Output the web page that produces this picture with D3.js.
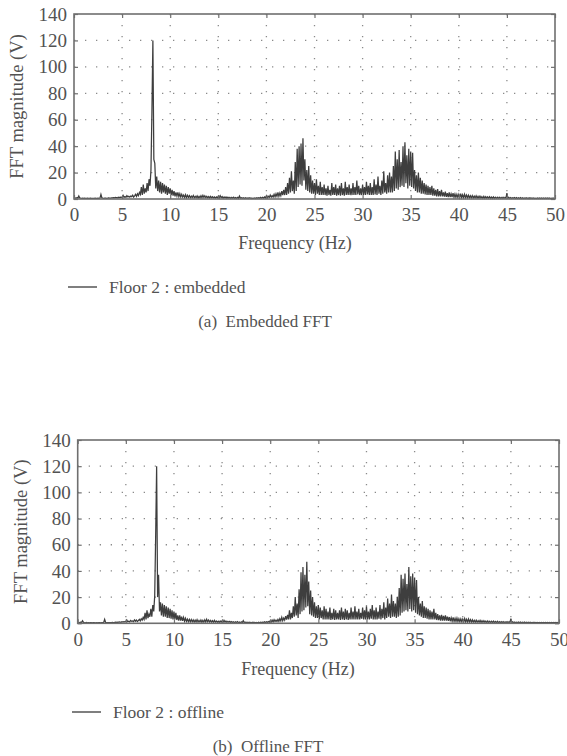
<!DOCTYPE html>
<html>
<head>
<meta charset="utf-8">
<script src="https://cdn.jsdelivr.net/npm/d3@7"></script>
<style>
  html, body { margin: 0; padding: 0; background: #fff; }
  svg { display: block; }
  text { font-family: "Liberation Serif", "DejaVu Serif", serif; fill: #525252; }
</style>
</head>
<body>
<svg id="chart" width="567" height="756"></svg>
<script>
// FFT magnitude (V), one value per 0.1 Hz from 0 to 50 Hz
const freqStep = 0.1;

const embeddedFft = [
  0.5,0.8,0.6,1,0.7,2.3,0.8,0.6,0.5,0.7,
  0.5,0.6,0.4,0.5,0.6,0.4,0.5,0.6,0.5,0.4,
  0.5,0.4,0.6,0.5,0.4,0.6,0.5,0.7,3.5,0.8,
  0.6,0.5,0.7,0.6,0.5,0.6,0.8,0.7,0.6,0.9,
  0.8,1,0.9,1.2,1,0.8,1.3,1.1,1.4,1.2,
  1.5,2.8,1.3,1.8,1.2,2.5,1.6,2,1.4,2.2,
  1.8,2.9,1.5,2.4,3.5,2,4,2.6,5,3.5,
  9,3,11,4,8,5,12,6,15,10,
  22,66,120,30,27,8,17,6,14,5,
  13,4,12,5,11,4,10,3,9,4,
  8,3,7,2.5,6,2,5,2.2,5,1.8,
  4,1.5,3.5,1.4,3,1.2,3.2,1,2.8,1.2,
  2.5,1,2.2,1.1,2.6,0.9,2,1,2.3,0.8,
  2,0.9,2.5,1,2.8,1.2,2.4,1,2,0.9,
  1.8,0.8,2,0.9,1.7,0.8,1.5,0.7,1.6,0.8,
  2.2,0.8,2.5,1,1.8,0.7,1.6,0.8,1.5,0.6,
  1.4,0.6,1.3,0.5,1.2,0.6,1.4,0.5,1.1,0.5,
  1.2,0.5,2.2,0.6,1,0.5,0.9,0.4,1,0.5,
  0.8,0.4,0.9,0.5,0.8,0.4,0.7,0.5,0.8,0.4,
  0.9,0.5,1,0.6,1.2,0.6,1.3,0.7,1.5,0.8,
  2.5,1,2,1.2,3,1.4,2.6,1.5,3.5,1.6,
  4,2,5,2,4.5,2.5,6,3,7,3,
  9,3,12,4,16,5,21,6,14,4,
  28,6,38,9,40,11,42,10,46,14,
  30,7,22,6,25,5,18,4,14,4,
  12,3,15,4,10,3,13,3,9,3,
  11,3,8,2.5,10,3,7,2.5,12,3,
  9,3,11,2.5,8,3,10,2.5,12,3,
  8,2.5,13,3,9,3,11,3,8,3,
  12,3,9,3,14,3.5,10,3,8,3,
  11,3,9,3,13,3.5,10,3,12,3,
  9,3,15,3.5,11,3,17,4,10,3,
  14,4,21,5,12,4,18,5,20,5,
  17,5,25,6,36,8,30,7,37,9,
  28,10,40,9,43,12,33,8,38,10,
  36,9,35,8,22,6,18,5,20,5,
  16,4,14,4,12,3.5,11,3,10,3,
  9,3,10,2.5,8,2.5,7,2,7.5,2,
  6,2,7,2,5,1.8,5.5,1.6,4.5,1.5,
  5,1.5,4,1.4,4.5,1.3,3.8,1.2,3.5,1.2,
  3.5,1.1,4,1,3.2,1,3.6,1,3,0.9,
  2.8,0.9,2.5,0.8,2.6,0.8,2.2,0.8,2.4,0.7,
  2,0.7,2.2,0.7,1.8,0.6,2,0.6,1.7,0.6,
  1.6,0.6,1.8,0.5,1.5,0.5,1.6,0.5,1.4,0.5,
  1.3,0.5,1.4,0.5,1.2,0.5,1.3,0.5,1.2,0.5,
  4.5,0.6,1.2,0.5,1.1,0.4,1,0.5,1.1,0.4,
  1,0.4,0.9,0.4,1,0.4,0.9,0.4,0.8,0.4,
  0.9,0.4,0.8,0.3,0.9,0.4,0.8,0.3,0.8,0.4,
  0.7,0.3,0.8,0.3,0.7,0.3,0.8,0.3,0.7,0.3,
  0.7,0.3,0.8,0.3,0.7,0.3,0.6,0.3,0.7,0.3,
  0.5
];

const offlineFft = [
  0.4,0.6,0.5,0.9,0.6,2,0.7,0.5,0.4,0.6,
  0.4,0.5,0.4,0.5,0.5,0.4,0.5,0.5,0.4,0.4,
  0.5,0.4,0.5,0.5,0.4,0.5,0.5,0.6,3,0.7,
  0.5,0.5,0.6,0.5,0.5,0.6,0.7,0.6,0.6,0.8,
  0.7,0.9,0.8,1,0.9,0.8,1.2,1,1.3,1.1,
  1.4,2.5,1.2,1.6,1.1,2.2,1.5,1.8,1.3,2.6,
  1.6,2.5,1.4,2,3,1.8,3.5,2.4,4.5,3,
  8,3,10,4,7,5,11,5,14,9,
  21,67,120,20,37,9,16,6,15,5,
  14,5,13,4,12,4,11,3.5,10,3,
  9,3,8,2.5,6,2,6,2,5,1.8,
  4.5,1.6,3.8,1.4,3.2,1.2,3,1.1,2.9,1.2,
  2.6,1,2.4,1,2.8,0.9,2.2,1,2.5,0.8,
  2.2,0.9,2.7,1,3,1.1,2.5,1,2.2,0.9,
  2,0.8,2.2,0.9,1.8,0.8,1.6,0.7,1.7,0.8,
  2,0.8,2.3,0.9,1.7,0.7,1.5,0.8,1.4,0.6,
  1.3,0.6,1.2,0.5,1.1,0.6,1.3,0.5,1,0.5,
  1.1,0.5,2,0.6,0.9,0.5,0.8,0.4,0.9,0.5,
  0.7,0.4,0.8,0.5,0.7,0.4,0.7,0.4,0.8,0.4,
  0.8,0.5,0.9,0.6,1.1,0.6,1.2,0.7,1.4,0.8,
  2,0.9,2.4,1.1,2.8,1.3,2.4,1.4,3,1.5,
  3.5,1.8,4.5,2,4,2.4,5.5,2.8,6.5,3,
  10,3,8,4,13,5,20,6,15,4,
  26,7,39,9,43,10,37,12,47,13,
  32,7,25,6,20,5,16,4,13,4,
  14,3,12,4,10,3,13,3,11,3,
  9,3,12,2.5,8,3,11,2.5,10,3,
  8,3,10,2.5,12,3,9,2.5,11,3,
  10,2.5,8,3,12,3,9,3,13,3,
  9,3,11,3,8,3.5,12,3,10,3,
  13,3,9,3,11,3.5,14,3,10,3,
  12,3,9,3.5,14,3,11,4,16,3,
  12,4,19,5,15,4,22,5,17,5,
  15,4,20,5,27,6,37,8,34,9,
  38,10,30,9,43,11,36,9,38,10,
  35,8,33,7,20,6,15,5,17,4,
  13,4,12,3.5,11,3,10,3,9,3,
  11,3,8,2.5,7,2.5,6,2,6.5,2,
  5.6,2,6,2,5,1.8,4.8,1.6,4.2,1.5,
  4.5,1.5,3.8,1.4,4,1.3,3.5,1.2,3.3,1.2,
  3.2,1.1,3.6,1,3,1,3.3,1,2.8,0.9,
  2.6,0.9,2.3,0.8,2.4,0.8,2,0.8,2.2,0.7,
  1.9,0.7,2,0.7,1.7,0.6,1.8,0.6,1.6,0.6,
  1.5,0.6,1.6,0.5,1.4,0.5,1.5,0.5,1.3,0.5,
  1.2,0.5,1.3,0.5,1.1,0.5,1.2,0.5,1.1,0.5,
  3.5,0.6,1.1,0.5,1,0.4,0.9,0.5,1,0.4,
  0.9,0.4,0.8,0.4,0.9,0.4,0.8,0.4,0.8,0.4,
  0.8,0.4,0.7,0.3,0.8,0.4,0.7,0.3,0.7,0.4,
  0.7,0.3,0.7,0.3,0.6,0.3,0.7,0.3,0.6,0.3,
  0.6,0.3,0.7,0.3,0.6,0.3,0.6,0.3,0.6,0.3,
  0.5
];

const xTicks = [0, 5, 10, 15, 20, 25, 30, 35, 40, 45, 50];
const yTicks = [0, 20, 40, 60, 80, 100, 120, 140];
const xTitle = "Frequency (Hz)";
const yTitle = "FFT magnitude (V)";

const panels = [
  {
    values: embeddedFft, legend: "Floor 2 : embedded", caption: "(a)\u2002Embedded FFT",
    left: 74, right: 555, top: 14, bottom: 199,
    yLabelX: 17, xTitleX: 295, xTitleY: 249,
    legendX: 68, legendY: 287, captionX: 265, captionY: 327
  },
  {
    values: offlineFft, legend: "Floor 2 : offline", caption: "(b)\u2002Offline FFT",
    left: 77.7, right: 559, top: 440, bottom: 623.3,
    yLabelX: 21, xTitleX: 298, xTitleY: 675,
    legendX: 72, legendY: 712, captionX: 268, captionY: 752
  }
];

const svg = d3.select("#chart");
const frameColor = "#6f6f6f";

panels.forEach(function (p) {
  const x = d3.scaleLinear().domain([0, 50]).range([p.left, p.right]);
  const y = d3.scaleLinear().domain([0, 140]).range([p.bottom, p.top]);
  const g = svg.append("g");

  // dotted grid
  g.append("g")
    .selectAll("line")
    .data(xTicks.slice(1, -1))
    .join("line")
    .attr("x1", (d) => x(d))
    .attr("x2", (d) => x(d))
    .attr("y1", p.top)
    .attr("y2", p.bottom)
    .attr("stroke", "#8a8a8a")
    .attr("stroke-width", 1.3)
    .attr("stroke-dasharray", "1.3,9.7");

  g.append("g")
    .selectAll("line")
    .data(yTicks.slice(1, -1))
    .join("line")
    .attr("x1", p.left)
    .attr("x2", p.right)
    .attr("y1", (d) => y(d))
    .attr("y2", (d) => y(d))
    .attr("stroke", "#8a8a8a")
    .attr("stroke-width", 1.3)
    .attr("stroke-dasharray", "1.3,9.7");

  const line = d3
    .line()
    .x((d, i) => x(i * freqStep))
    .y((d) => y(d));

  g.append("path")
    .datum(p.values)
    .attr("fill", "none")
    .attr("stroke", "#3e3e3e")
    .attr("stroke-width", 1.25)
    .attr("stroke-linejoin", "miter")
    .attr("d", line);

  // axes with inward ticks on all four sides
  const bottomAxis = g.append("g")
    .attr("transform", `translate(0,${p.bottom})`)
    .call(d3.axisBottom(x).tickValues(xTicks).tickSizeInner(-4).tickSizeOuter(0).tickPadding(9));
  const leftAxis = g.append("g")
    .attr("transform", `translate(${p.left},0)`)
    .call(d3.axisLeft(y).tickValues(yTicks).tickSizeInner(-4).tickSizeOuter(0).tickPadding(7));
  g.append("g")
    .attr("transform", `translate(0,${p.top})`)
    .call(d3.axisTop(x).tickValues(xTicks).tickSizeInner(-4).tickSizeOuter(0).tickFormat(""));
  g.append("g")
    .attr("transform", `translate(${p.right},0)`)
    .call(d3.axisRight(y).tickValues(yTicks).tickSizeInner(-4).tickSizeOuter(0).tickFormat(""));

  g.selectAll(".domain").remove();
  g.selectAll(".tick line").attr("stroke", frameColor).attr("stroke-width", 1.2);
  [bottomAxis, leftAxis].forEach((a) =>
    a.selectAll("text")
      .style("font-family", '"Liberation Serif", serif')
      .style("font-size", "19px")
      .attr("fill", "#525252")
  );

  g.append("rect")
    .attr("x", p.left)
    .attr("y", p.top)
    .attr("width", p.right - p.left)
    .attr("height", p.bottom - p.top)
    .attr("fill", "none")
    .attr("stroke", frameColor)
    .attr("stroke-width", 1.6);

  g.append("text")
    .attr("transform", `translate(${p.yLabelX},${(p.top + p.bottom) / 2}) rotate(-90)`)
    .attr("text-anchor", "middle")
    .attr("dy", "0.35em")
    .style("font-size", "18.5px")
    .text(yTitle);

  g.append("text")
    .attr("x", p.xTitleX)
    .attr("y", p.xTitleY)
    .attr("text-anchor", "middle")
    .style("font-size", "18px")
    .text(xTitle);

  g.append("line")
    .attr("x1", p.legendX)
    .attr("x2", p.legendX + 29)
    .attr("y1", p.legendY)
    .attr("y2", p.legendY)
    .attr("stroke", "#555")
    .attr("stroke-width", 1.5);

  g.append("text")
    .attr("x", p.legendX + 41)
    .attr("y", p.legendY + 6)
    .style("font-size", "17.5px")
    .text(p.legend);

  g.append("text")
    .attr("x", p.captionX)
    .attr("y", p.captionY)
    .attr("text-anchor", "middle")
    .style("font-size", "17px")
    .text(p.caption);
});
</script>
</body>
</html>
